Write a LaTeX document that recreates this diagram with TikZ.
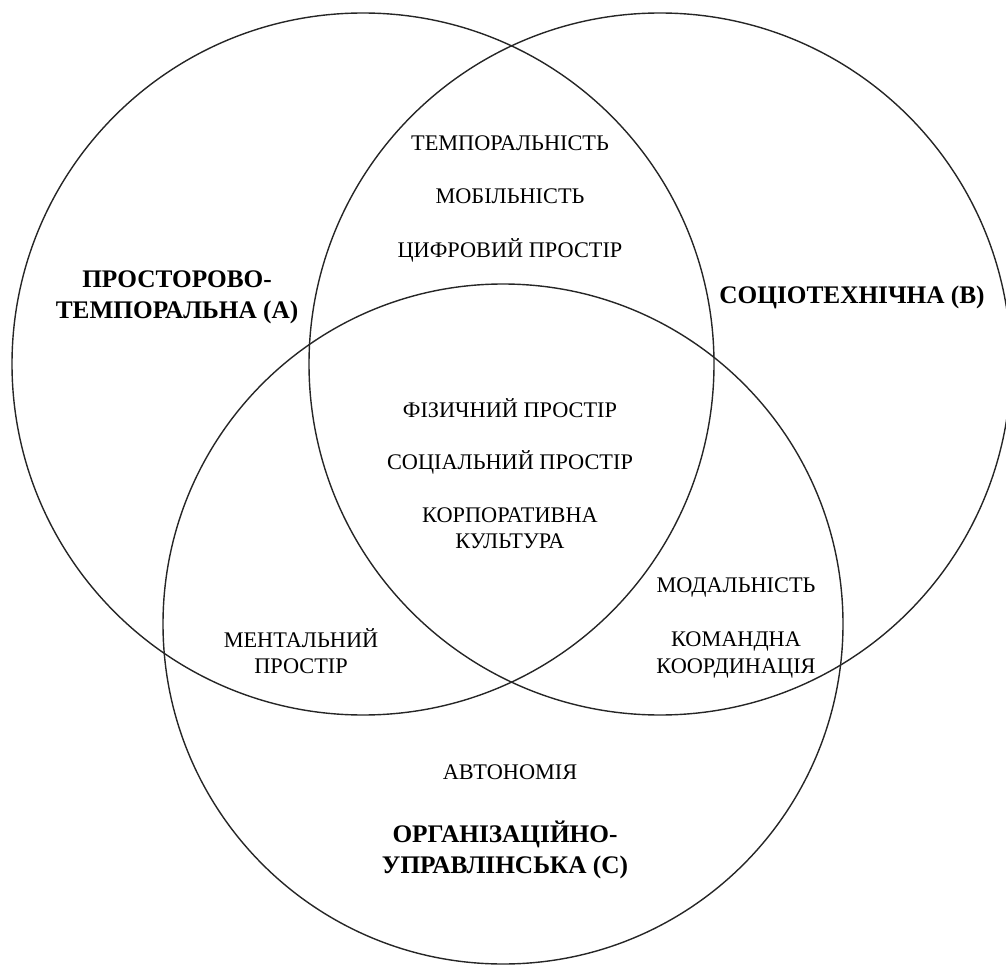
\documentclass[tikz,border=0pt]{standalone}
\usepackage{fontspec}
\setmainfont{Liberation Serif}
\usepackage{tikz}
\tikzset{
	setcircle/.style = {shape=circle, draw=black!85, line width=1.4pt,
		inner sep=0pt, fill=none},
	item/.style      = {align=center, inner sep=0pt,
		font=\fontsize{22.3}{26.5}\selectfont},
	heading/.style   = {align=center, inner sep=0pt,
		font=\fontsize{25.3}{31}\selectfont\bfseries},
}
\begin{document}
\begin{tikzpicture}[x=1pt, y=-1pt]
\useasboundingbox (0,0) rectangle (1006,965);

% the three sets
\node [setcircle, minimum size=702pt] (A) at (363,364) {};
\node [setcircle, minimum size=702pt] (B) at (660,364) {};
\node [setcircle, minimum size=680pt] (C) at (503,624) {};

% names of the sets
\node [heading] (nameA) at (177,297) {ПРОСТОРОВО-\\ТЕМПОРАЛЬНА (А)};
\node [heading] (nameB) at (852,297) {СОЦІОТЕХНІЧНА (В)};
\node [heading] (nameC) at (505,850) {ОРГАНІЗАЦІЙНО-\\УПРАВЛІНСЬКА (С)};

% A and B
\node [item] (temp) at (510,143) {ТЕМПОРАЛЬНІСТЬ};
\node [item] (mob)  at (510,196) {МОБІЛЬНІСТЬ};
\node [item] (dig)  at (510,250) {ЦИФРОВИЙ ПРОСТІР};

% A, B and C
\node [item] (phys) at (510,408) {ФІЗИЧНИЙ ПРОСТІР};
\node [item] (soc)  at (510,462) {СОЦІАЛЬНИЙ ПРОСТІР};
\node [item] (corp) at (510,528) {КОРПОРАТИВНА\\КУЛЬТУРА};

% A and C
\node [item] (ment) at (301,651) {МЕНТАЛЬНИЙ\\ПРОСТІР};

% B and C
\node [item] (modal) at (736,587) {МОДАЛЬНІСТЬ};
\node [item] (team)  at (736,655) {КОМАНДНА\\КООРДИНАЦІЯ};

% C only
\node [item] (auto) at (510,772) {АВТОНОМІЯ};
\end{tikzpicture}
\end{document}
